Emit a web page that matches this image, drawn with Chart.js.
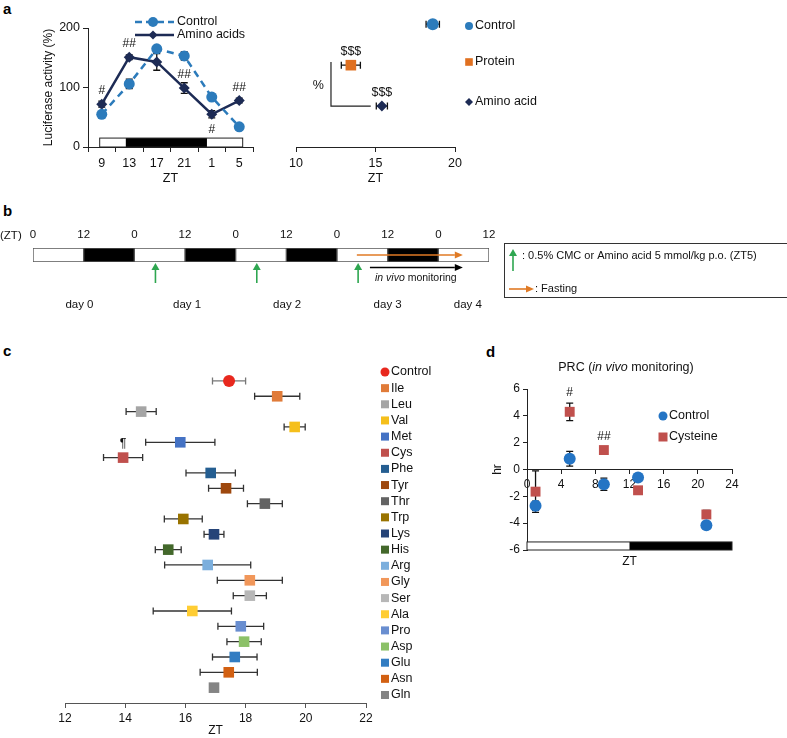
<!DOCTYPE html>
<html>
<head>
<meta charset="utf-8">
<script src="https://cdn.jsdelivr.net/npm/chart.js@4/dist/chart.umd.min.js"></script>
<style>
  body { margin: 0; background: #fff; width: 787px; height: 738px; position: relative; overflow: hidden;
         font-family: "Liberation Sans", Arial, sans-serif; }
  canvas { position: absolute; }
  .panel { position: absolute; font-weight: bold; font-size: 15px; line-height: 17px; color: #000; }
</style>
</head>
<body>
<div class="panel" style="left:3px;top:0px">a</div>
<div class="panel" style="left:3px;top:202px">b</div>
<div class="panel" style="left:3px;top:342px">c</div>
<div class="panel" style="left:486px;top:343px">d</div>

<canvas id="chartA1" width="260" height="190" style="left:0;top:0"></canvas>
<canvas id="chartA2" width="320" height="190" style="left:260px;top:0"></canvas>
<canvas id="chartB" width="787" height="125" style="left:0;top:195px"></canvas>
<canvas id="chartC" width="480" height="408" style="left:0;top:330px"></canvas>
<canvas id="chartD" width="307" height="250" style="left:480px;top:330px"></canvas>

<script>
// ---- panel a, left: luciferase activity over ZT
const ztA = ["9", "13", "17", "21", "1", "5"];
const controlA = [55, 106, 165, 153, 84, 34];
const controlAErr = [3, 8, 4, 7, 5, 3];
const aminoA = [72, 151, 143, 99, 55, 78];
const aminoAErr = [5, 4, 14, 9, 6, 4];
const sigA = ["#", "##", "", "##", "#", "##"];
const sigBelowA = [false, false, false, false, true, false];
const ldHoursA = [8.7, 12.5, 24.3, 29.5]; // light on, dark on, dark off, end

// ---- panel a, right: peak phase
const groupsA2 = ["Control", "Protein", "Amino acid"];
const phaseA2 = [18.6, 13.45, 15.4];
const phaseA2Err = [0.42, 0.6, 0.35];
const sigA2 = ["", "$$$", "$$$"];

// ---- panel b: protocol timeline (hours)
const segStartB = [0, 12, 24, 36, 48, 60, 72, 84, 96];
const segDarkB = [0, 1, 0, 1, 0, 1, 0, 1, 0];
const doseHoursB = [29, 53, 77];
const dayLabelsB = ["day 0", "day 1", "day 2", "day 3", "day 4"];
const dayHoursB = [11, 36.5, 60.2, 84, 103];
const fastingB = [76.7, 101.8];
const monitorB = [79.8, 101.8];

// ---- panel c: peak phase per amino acid
const aminoC = ["Control", "Ile", "Leu", "Val", "Met", "Cys", "Phe", "Tyr", "Thr", "Trp", "Lys",
  "His", "Arg", "Gly", "Ser", "Ala", "Pro", "Asp", "Glu", "Asn", "Gln"];
const phaseC = [17.45, 19.05, 14.53, 19.63, 15.83, 13.93, 16.84, 17.35, 18.64, 15.93, 16.95,
  15.43, 16.74, 18.14, 18.14, 16.23, 17.84, 17.95, 17.64, 17.44, 16.95];
const phaseCErr = [0.55, 0.75, 0.5, 0.35, 1.15, 0.65, 0.82, 0.58, 0.58, 0.63, 0.33,
  0.43, 1.43, 1.08, 0.55, 1.3, 0.76, 0.57, 0.74, 0.95, 0];
const colorsC = ["#e8281e", "#e07b39", "#a5a5a5", "#f5bf1b", "#4472c4", "#c0504d", "#255e91",
  "#9e480e", "#636363", "#997300", "#264478", "#43682b", "#7cafdd", "#f1975a", "#b7b7b7",
  "#ffcd33", "#698ed0", "#8cc168", "#327dc2", "#d26012", "#848484"];

// ---- panel d: phase response curve
const ztD = [1, 5, 9, 13, 21];
const controlD = [-2.7, 0.8, -1.1, -0.6, -4.15];
const controlDErr = [0.35, 0.55, 0.45, 0.15, 0.15];
const cysD = [-1.65, 4.3, 1.45, -1.55, -3.35];
const cysDErr = [1.55, 0.65, 0.15, 0.2, 0.3];
const sigD = ["", "#", "##", "", ""];
const ldStartD = [0, 12];
const ldEndD = [12, 24];
const ldDarkD = [0, 1];

const FONT = '"Liberation Sans", Arial, sans-serif';
Chart.defaults.font.family = FONT;
Chart.defaults.font.size = 12;
Chart.defaults.color = "#111";

const blueA = "#2c7bbb";
const navyA = "#1d2b55";
const orangeA = "#e07020";

// small drawing helpers
function marker(ctx, style, x, y, r, color) {
  ctx.save();
  ctx.fillStyle = color;
  ctx.beginPath();
  if (style === "circle") ctx.arc(x, y, r, 0, Math.PI * 2);
  else if (style === "rect") ctx.rect(x - r, y - r, 2 * r, 2 * r);
  else {
    ctx.moveTo(x, y - r); ctx.lineTo(x + r, y); ctx.lineTo(x, y + r); ctx.lineTo(x - r, y);
    ctx.closePath();
  }
  ctx.fill();
  ctx.restore();
}

function text(ctx, s, x, y, size, align, style) {
  ctx.save();
  ctx.font = (style || "") + " " + size + "px " + FONT;
  ctx.fillStyle = "#111";
  ctx.textAlign = align || "left";
  ctx.textBaseline = "middle";
  ctx.fillText(s, x, y);
  ctx.restore();
}

function arrow(ctx, x1, y1, x2, y2, color, lw, hl, hw) {
  const a = Math.atan2(y2 - y1, x2 - x1);
  const bx = x2 - hl * Math.cos(a), by = y2 - hl * Math.sin(a);
  ctx.save();
  ctx.strokeStyle = color; ctx.fillStyle = color; ctx.lineWidth = lw;
  ctx.beginPath(); ctx.moveTo(x1, y1); ctx.lineTo(bx, by); ctx.stroke();
  ctx.beginPath();
  ctx.moveTo(x2, y2);
  ctx.lineTo(bx + (hw / 2) * Math.sin(a), by - (hw / 2) * Math.cos(a));
  ctx.lineTo(bx - (hw / 2) * Math.sin(a), by + (hw / 2) * Math.cos(a));
  ctx.closePath(); ctx.fill();
  ctx.restore();
}

// error bars from dataset.errors, vertical unless errorAxis is "x"
const errorBars = {
  id: "errorBars",
  beforeDatasetsDraw(chart) {
    const ctx = chart.ctx;
    chart.data.datasets.forEach((ds, di) => {
      if (!ds.errors) return;
      const meta = chart.getDatasetMeta(di);
      const sx = chart.scales[meta.xAxisID];
      const sy = chart.scales[meta.yAxisID];
      meta.data.forEach((pt, i) => {
        const e = ds.errors[i];
        if (!e) return;
        const raw = ds.data[i];
        const cap = 3.5;
        ctx.save();
        ctx.strokeStyle = Array.isArray(ds.errorColor) ? ds.errorColor[i] : (ds.errorColor || "#111");
        ctx.lineWidth = 1.3;
        ctx.beginPath();
        if (ds.errorAxis === "x") {
          const a = sx.getPixelForValue(raw.x - e), b = sx.getPixelForValue(raw.x + e);
          ctx.moveTo(a, pt.y); ctx.lineTo(b, pt.y);
          ctx.moveTo(a, pt.y - cap); ctx.lineTo(a, pt.y + cap);
          ctx.moveTo(b, pt.y - cap); ctx.lineTo(b, pt.y + cap);
        } else {
          const v = typeof raw === "object" ? raw.y : raw;
          const a = sy.getPixelForValue(v - e), b = sy.getPixelForValue(v + e);
          ctx.moveTo(pt.x, a); ctx.lineTo(pt.x, b);
          ctx.moveTo(pt.x - cap, a); ctx.lineTo(pt.x + cap, a);
          ctx.moveTo(pt.x - cap, b); ctx.lineTo(pt.x + cap, b);
        }
        ctx.stroke();
        ctx.restore();
      });
    });
  },
};

const axisGrid = { drawOnChartArea: false, tickLength: 5, color: "#222" };

// ---------------- Panel a left
const plugA1 = {
  id: "plugA1",
  beforeDatasetsDraw(chart) {
    const { ctx, scales: { x, y } } = chart;
    const px = (h) => x.getPixelForValue((h - 9) / 4);
    const y0 = y.getPixelForValue(0), y1 = y.getPixelForValue(15);
    ctx.save();
    ctx.fillStyle = "#fff";
    ctx.fillRect(px(ldHoursA[0]), y1, px(ldHoursA[3]) - px(ldHoursA[0]), y0 - y1);
    ctx.fillStyle = "#000";
    ctx.fillRect(px(ldHoursA[1]), y1, px(ldHoursA[2]) - px(ldHoursA[1]), y0 - y1);
    ctx.strokeStyle = "#222"; ctx.lineWidth = 1;
    ctx.strokeRect(px(ldHoursA[0]), y1, px(ldHoursA[3]) - px(ldHoursA[0]), y0 - y1);
    ctx.restore();
  },
  afterDraw(chart) {
    const { ctx, scales: { x, y } } = chart;
    sigA.forEach((s, i) => {
      if (!s) return;
      const py = y.getPixelForValue(aminoA[i]) + (sigBelowA[i] ? 15 : -13);
      text(ctx, s, x.getPixelForValue(i), py, 12, "center");
    });
    // legend
    ctx.save();
    ctx.lineWidth = 2.5;
    ctx.strokeStyle = blueA; ctx.setLineDash([7, 4]);
    ctx.beginPath(); ctx.moveTo(135, 22); ctx.lineTo(174, 22); ctx.stroke();
    ctx.setLineDash([]);
    ctx.strokeStyle = navyA;
    ctx.beginPath(); ctx.moveTo(135, 35); ctx.lineTo(174, 35); ctx.stroke();
    ctx.restore();
    marker(ctx, "circle", 153, 22, 5, blueA);
    marker(ctx, "diamond", 153, 35, 4.5, navyA);
    text(ctx, "Control", 177, 22, 12.5);
    text(ctx, "Amino acids", 177, 35, 12.5);
  },
};

new Chart(document.getElementById("chartA1"), {
  type: "line",
  data: {
    labels: ztA,
    datasets: [
      {
        label: "Control", data: controlA, errors: controlAErr,
        borderColor: blueA, backgroundColor: blueA, borderWidth: 2.5, borderDash: [7, 5],
        pointStyle: "circle", pointRadius: 5.5, pointBorderWidth: 0, clip: false,
      },
      {
        label: "Amino acids", data: aminoA, errors: aminoAErr,
        borderColor: navyA, backgroundColor: navyA, borderWidth: 2.5,
        pointStyle: "rectRot", pointRadius: 5.5, pointBorderWidth: 0, clip: false,
      },
    ],
  },
  options: {
    responsive: false,
    animation: false,
    layout: { padding: { left: 37, right: 7, top: 28, bottom: 0 } },
    plugins: { legend: { display: false }, tooltip: { enabled: false } },
    scales: {
      x: {
        offset: true,
        grid: { ...axisGrid, offset: true },
        border: { color: "#222" },
        ticks: { padding: 4, font: { size: 12.5 } },
        title: { display: true, text: "ZT", font: { size: 12.5 }, padding: { top: 0, bottom: 4 } },
        afterFit: (s) => { s.height = 43; },
      },
      y: {
        min: 0, max: 200,
        ticks: { stepSize: 100, font: { size: 12.5 } },
        grid: axisGrid,
        border: { color: "#222" },
        title: { display: true, text: "Luciferase activity (%)", font: { size: 12 }, padding: 4 },
        afterFit: (s) => { s.width = 51; },
      },
    },
  },
  plugins: [plugA1, errorBars],
});

// ---------------- Panel a right
const stylesA2 = ["circle", "rect", "rectRot"];
const colorsA2 = [blueA, orangeA, navyA];
const plugA2 = {
  id: "plugA2",
  afterDraw(chart) {
    const { ctx, scales: { x, y } } = chart;
    sigA2.forEach((s, i) => {
      if (!s) return;
      text(ctx, s, x.getPixelForValue(phaseA2[i]), y.getPixelForValue(3 - i) - 14, 12.5, "center");
    });
    // bracket between protein and amino acid
    ctx.save();
    ctx.strokeStyle = "#222"; ctx.lineWidth = 1.2;
    ctx.beginPath();
    ctx.moveTo(x.getPixelForValue(12.2), y.getPixelForValue(2.08));
    ctx.lineTo(x.getPixelForValue(12.2), y.getPixelForValue(1));
    ctx.lineTo(x.getPixelForValue(14.7), y.getPixelForValue(1));
    ctx.stroke();
    ctx.restore();
    text(ctx, "%", x.getPixelForValue(11.4), y.getPixelForValue(1.5), 12.5, "center");
    // legend
    const ly = [26, 62, 102];
    const lstyle = ["circle", "rect", "diamond"];
    const lr = [4, 3.8, 4];
    groupsA2.forEach((g, i) => {
      marker(ctx, lstyle[i], 209, ly[i], lr[i], colorsA2[i]);
      text(ctx, g, 215, ly[i], 12.5);
    });
  },
};

new Chart(document.getElementById("chartA2"), {
  type: "scatter",
  data: {
    datasets: groupsA2.map((g, i) => ({
      label: g,
      data: [{ x: phaseA2[i], y: 3 - i }],
      errors: [phaseA2Err[i]],
      errorAxis: "x",
      backgroundColor: colorsA2[i],
      pointStyle: stylesA2[i],
      pointRadius: i === 1 ? 7.5 : (i === 0 ? 6 : 5.5),
      pointBorderWidth: 0,
      clip: false,
    })),
  },
  options: {
    responsive: false,
    animation: false,
    layout: { padding: { left: 36, right: 125, top: 12, bottom: 0 } },
    plugins: { legend: { display: false }, tooltip: { enabled: false } },
    scales: {
      x: {
        min: 10, max: 20,
        ticks: { stepSize: 5, padding: 4, font: { size: 12.5 } },
        grid: axisGrid,
        border: { color: "#222" },
        title: { display: true, text: "ZT", font: { size: 12.5 }, padding: { top: 0, bottom: 4 } },
        afterFit: (s) => { s.height = 43; },
      },
      y: { display: false, min: 0, max: 3.3 },
    },
  },
  plugins: [plugA2, errorBars],
});

// ---------------- Panel b
const plugB = {
  id: "plugB",
  afterDraw(chart) {
    const { ctx, scales: { x }, chartArea } = chart;
    const top = chartArea.top, bot = chartArea.bottom;
    text(ctx, "(ZT)", 0, 41, 11.5);
    doseHoursB.forEach((h) => {
      const px = x.getPixelForValue(h);
      arrow(ctx, px, bot + 21, px, bot + 1, "#2ea650", 1.6, 7, 8);
    });
    arrow(ctx, x.getPixelForValue(fastingB[0]), (top + bot) / 2, x.getPixelForValue(fastingB[1]),
      (top + bot) / 2, "#e07a25", 1.6, 8, 7);
    arrow(ctx, x.getPixelForValue(monitorB[0]), bot + 5.5, x.getPixelForValue(monitorB[1]),
      bot + 5.5, "#000", 1.6, 8, 7);
    // "in vivo monitoring"
    ctx.save();
    let sx = x.getPixelForValue(81);
    ctx.font = "italic 10.5px " + FONT;
    ctx.fillStyle = "#111"; ctx.textBaseline = "middle";
    ctx.fillText("in vivo", sx, bot + 16);
    sx += ctx.measureText("in vivo ").width;
    ctx.font = "10.5px " + FONT;
    ctx.fillText("monitoring", sx, bot + 16);
    ctx.restore();
    dayLabelsB.forEach((d, i) => text(ctx, d, x.getPixelForValue(dayHoursB[i]), 110, 11.5, "center"));
    // legend box
    ctx.save();
    ctx.strokeStyle = "#333"; ctx.lineWidth = 1;
    ctx.strokeRect(504.5, 48.5, 300, 54);
    ctx.restore();
    arrow(ctx, 513, 76, 513, 54, "#2ea650", 1.6, 7, 8);
    text(ctx, ": 0.5% CMC or Amino acid 5 mmol/kg p.o. (ZT5)", 522, 61, 11);
    arrow(ctx, 509, 94, 534, 94, "#e07a25", 1.6, 8, 7);
    text(ctx, ": Fasting", 535, 94, 11);
  },
};

new Chart(document.getElementById("chartB"), {
  type: "bar",
  data: {
    labels: ["LD"],
    datasets: segStartB.map((s, i) => ({
      data: [[s, s + 12]],
      backgroundColor: segDarkB[i] ? "#000" : "#fff",
      borderColor: "#555",
      borderWidth: 1,
      borderSkipped: false,
      barPercentage: 1,
      categoryPercentage: 1,
      grouped: false,
    })),
  },
  options: {
    indexAxis: "y",
    responsive: false,
    animation: false,
    layout: { padding: { left: 33, right: 298, top: 23, bottom: 58 } },
    plugins: { legend: { display: false }, tooltip: { enabled: false } },
    scales: {
      x: {
        position: "top",
        min: 0, max: 108,
        ticks: { stepSize: 12, padding: 6, font: { size: 11.5 }, callback: (v) => v % 24 },
        grid: { display: false, drawTicks: false },
        border: { display: false },
        afterFit: (s) => { s.height = 30; },
      },
      y: { display: false },
    },
  },
  plugins: [plugB],
});

// ---------------- Panel c
const plugC = {
  id: "plugC",
  afterDraw(chart) {
    const { ctx, scales: { x, y } } = chart;
    text(ctx, "\u00b6", x.getPixelForValue(phaseC[5]), y.getPixelForValue(5) - 14, 12.5, "center");
    aminoC.forEach((n, i) => {
      const ly = 42 + i * 16.15;
      if (i === 0) marker(ctx, "circle", 385, ly, 4.5, colorsC[i]);
      else marker(ctx, "rect", 385, ly, 4, colorsC[i]);
      text(ctx, n, 391, ly, 12.5);
    });
  },
};

new Chart(document.getElementById("chartC"), {
  type: "scatter",
  data: {
    datasets: [{
      label: "Peak phase",
      data: aminoC.map((n, i) => ({ x: phaseC[i], y: i })),
      errors: phaseCErr,
      errorAxis: "x",
      errorColor: aminoC.map((n, i) => (i === 0 ? "#777" : "#333")),
      backgroundColor: colorsC,
      pointStyle: aminoC.map((n, i) => (i === 0 ? "circle" : "rect")),
      pointRadius: aminoC.map((n, i) => (i === 0 ? 6 : 7.5)),
      pointBorderWidth: 0,
      clip: false,
    }],
  },
  options: {
    responsive: false,
    animation: false,
    layout: { padding: { left: 65, right: 114, top: 35.6, bottom: 0 } },
    plugins: { legend: { display: false }, tooltip: { enabled: false } },
    scales: {
      x: {
        min: 12, max: 22,
        ticks: { stepSize: 2, padding: 3, font: { size: 12 } },
        grid: { ...axisGrid, color: "#555" },
        border: { color: "#555" },
        title: { display: true, text: "ZT", font: { size: 12 }, padding: { top: 0, bottom: 0 } },
        afterFit: (s) => { s.height = 35; },
      },
      y: { display: false, min: -1, max: 21, reverse: true },
    },
  },
  plugins: [plugC, errorBars],
});

// ---------------- Panel d
const blueD = "#2474c4";
const redD = "#c0504d";
const plugD = {
  id: "plugD",
  beforeDatasetsDraw(chart) {
    const { ctx, scales: { x, y } } = chart;
    const y1 = y.getPixelForValue(-5.4), y0 = y.getPixelForValue(-6);
    ctx.save();
    ldStartD.forEach((s, i) => {
      const a = x.getPixelForValue(s), b = x.getPixelForValue(ldEndD[i]);
      ctx.fillStyle = ldDarkD[i] ? "#000" : "#fff";
      ctx.fillRect(a, y1, b - a, y0 - y1);
    });
    ctx.strokeStyle = "#222"; ctx.lineWidth = 1;
    ctx.strokeRect(x.getPixelForValue(0), y1, x.getPixelForValue(24) - x.getPixelForValue(0), y0 - y1);
    ctx.restore();
  },
  afterDraw(chart) {
    const { ctx, scales: { x, y }, chartArea } = chart;
    sigD.forEach((s, i) => {
      if (!s) return;
      const off = i === 1 ? -19 : -13;
      text(ctx, s, x.getPixelForValue(ztD[i]), y.getPixelForValue(cysD[i]) + off, 12, "center");
    });
    // title with italic part
    ctx.save();
    ctx.fillStyle = "#111"; ctx.textBaseline = "middle";
    const parts = [["PRC (", ""], ["in vivo", "italic "], [" monitoring)", ""]];
    let w = 0;
    parts.forEach((p) => { ctx.font = p[1] + "12.5px " + FONT; w += ctx.measureText(p[0]).width; });
    let sx = 146 - w / 2;
    parts.forEach((p) => {
      ctx.font = p[1] + "12.5px " + FONT;
      ctx.fillText(p[0], sx, 38);
      sx += ctx.measureText(p[0]).width;
    });
    ctx.restore();
    text(ctx, "ZT", (chartArea.left + chartArea.right) / 2, 232, 12, "center");
    marker(ctx, "circle", 183, 86, 4.5, blueD);
    marker(ctx, "rect", 183, 107, 4.5, redD);
    text(ctx, "Control", 189, 86, 12.5);
    text(ctx, "Cysteine", 189, 107, 12.5);
  },
};

new Chart(document.getElementById("chartD"), {
  type: "scatter",
  data: {
    datasets: [
      {
        label: "Control", data: ztD.map((z, i) => ({ x: z, y: controlD[i] })), errors: controlDErr,
        backgroundColor: blueD, pointStyle: "circle", pointRadius: 6, pointBorderWidth: 0, clip: false,
      },
      {
        label: "Cysteine", data: ztD.map((z, i) => ({ x: z, y: cysD[i] })), errors: cysDErr,
        backgroundColor: redD, pointStyle: "rect", pointRadius: 7, pointBorderWidth: 0, clip: false,
      },
    ],
  },
  options: {
    responsive: false,
    animation: false,
    layout: { padding: { left: 10, right: 55, top: 59, bottom: 30 } },
    plugins: { legend: { display: false }, tooltip: { enabled: false } },
    scales: {
      x: {
        position: { y: 0 },
        min: 0, max: 24,
        ticks: { stepSize: 4, padding: 4, font: { size: 12 } },
        grid: { ...axisGrid, tickLength: 4 },
        border: { color: "#222" },
      },
      y: {
        min: -6, max: 6,
        ticks: { stepSize: 2, padding: 3, font: { size: 12 } },
        grid: { ...axisGrid, tickLength: 4 },
        border: { color: "#222" },
        title: { display: true, text: "hr", font: { size: 12 }, padding: { top: 0, bottom: 0 } },
        afterFit: (s) => { s.width = 37; },
      },
    },
  },
  plugins: [plugD, errorBars],
});
</script>
</body>
</html>
